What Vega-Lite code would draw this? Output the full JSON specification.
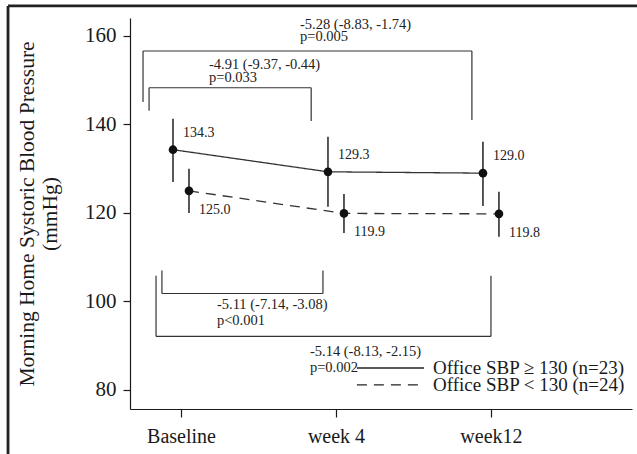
{
  "$schema": "https://vega.github.io/schema/vega-lite/v6.json",
  "width": 502,
  "height": 391,
  "autosize": {"type": "none"},
  "padding": {"left": 130, "top": 18, "right": 5, "bottom": 45},
  "background": "white",
  "config": {
    "view": {"stroke": null},
    "font": "Liberation Serif",
    "text": {"font": "Liberation Serif"}
  },
  "datasets": {
    "series": [
      {"x": 1, "y": 134.3, "lo": 127.0, "hi": 141.3, "group": "Office SBP ≥ 130 (n=23)"},
      {"x": 2, "y": 129.3, "lo": 121.4, "hi": 137.2, "group": "Office SBP ≥ 130 (n=23)"},
      {"x": 3, "y": 129.0, "lo": 121.6, "hi": 136.1, "group": "Office SBP ≥ 130 (n=23)"},
      {"x": 1, "y": 125.0, "lo": 120.0, "hi": 130.0, "group": "Office SBP < 130 (n=24)"},
      {"x": 2, "y": 119.9, "lo": 115.5, "hi": 124.3, "group": "Office SBP < 130 (n=24)"},
      {"x": 3, "y": 119.8, "lo": 114.6, "hi": 124.8, "group": "Office SBP < 130 (n=24)"}
    ],
    "brackets": [
      {"x": 0.755, "y": 156.6, "x2": 2.877, "y2": 156.6},
      {"x": 0.755, "y": 156.6, "x2": 0.755, "y2": 145.1},
      {"x": 2.877, "y": 156.6, "x2": 2.877, "y2": 141.0},
      {"x": 0.794, "y": 148.3, "x2": 1.84, "y2": 148.3},
      {"x": 0.794, "y": 148.3, "x2": 0.794, "y2": 143.1},
      {"x": 1.84, "y": 148.3, "x2": 1.84, "y2": 140.8},
      {"x": 0.877, "y": 101.8, "x2": 1.916, "y2": 101.8},
      {"x": 0.877, "y": 101.8, "x2": 0.877, "y2": 107.0},
      {"x": 1.916, "y": 101.8, "x2": 1.916, "y2": 107.0},
      {"x": 0.839, "y": 92.1, "x2": 3.0, "y2": 92.1},
      {"x": 0.839, "y": 92.1, "x2": 0.839, "y2": 105.8},
      {"x": 3.0, "y": 92.1, "x2": 3.0, "y2": 105.8}
    ],
    "frame": [
      {"x": -0.116, "y": 166.78, "x2": 3.99, "y2": 166.78},
      {"x": -0.116, "y": 166.78, "x2": -0.116, "y2": 60}
    ],
    "notes": [
      {"x": 1.768, "y": 162.5, "text": "-5.28 (-8.83, -1.74)"},
      {"x": 1.768, "y": 159.8, "text": "p=0.005"},
      {"x": 1.181, "y": 153.4, "text": "-4.91 (-9.37, -0.44)"},
      {"x": 1.181, "y": 150.5, "text": "p=0.033"},
      {"x": 1.232, "y": 99.3, "text": "-5.11 (-7.14, -3.08)"},
      {"x": 1.232, "y": 95.6, "text": "p<0.001"},
      {"x": 1.832, "y": 88.6, "text": "-5.14 (-8.13, -2.15)"},
      {"x": 1.832, "y": 85.0, "text": "p=0.002"}
    ],
    "legendkeys": [
      {"x": 2.135, "x2": 2.568, "xt": 2.626, "y": 84.97, "group": "Office SBP ≥ 130 (n=23)"},
      {"x": 2.135, "x2": 2.568, "xt": 2.626, "y": 81.13, "group": "Office SBP < 130 (n=24)"}
    ]
  },
  "encoding": {
    "x": {
      "field": "x",
      "type": "quantitative",
      "scale": {"domain": [0.671, 3.91], "nice": false, "zero": false},
      "axis": {
        "title": null,
        "values": [1, 2, 3],
        "labelExpr": "datum.value == 1 ? 'Baseline' : datum.value == 2 ? 'week 4' : 'week12'",
        "grid": false,
        "tickSize": 8,
        "tickColor": "#1a1a1a",
        "tickWidth": 1.2,
        "domainColor": "#1a1a1a",
        "domainWidth": 1.2,
        "labelFont": "Liberation Serif",
        "labelFontSize": 20,
        "labelColor": "#1a1a1a",
        "labelPadding": 9,
        "labelFlush": false,
        "labelOverlap": false
      }
    },
    "y": {
      "field": "y",
      "type": "quantitative",
      "scale": {"domain": [75.7, 164.06], "nice": false, "zero": false},
      "axis": {
        "title": ["Morning Home Systoric Blood Pressure", "(mmHg)"],
        "titleFont": "Liberation Serif",
        "titleFontSize": 21.5,
        "titleFontWeight": "normal",
        "titleColor": "#1a1a1a",
        "titleLineHeight": 23,
        "titlePadding": 23,
        "values": [80, 100, 120, 140, 160],
        "grid": false,
        "tickSize": 7,
        "tickColor": "#1a1a1a",
        "tickWidth": 1.2,
        "domainColor": "#1a1a1a",
        "domainWidth": 1.2,
        "labelFont": "Liberation Serif",
        "labelFontSize": 21,
        "labelColor": "#1a1a1a",
        "labelPadding": 7
      }
    }
  },
  "layer": [
    {
      "data": {"name": "frame"},
      "mark": {"type": "rule", "color": "#222222", "strokeWidth": 2.8},
      "encoding": {"x2": {"field": "x2"}, "y2": {"field": "y2"}}
    },
    {
      "data": {"name": "brackets"},
      "mark": {"type": "rule", "color": "#333333", "strokeWidth": 1.2},
      "encoding": {"x2": {"field": "x2"}, "y2": {"field": "y2"}}
    },
    {
      "data": {"name": "notes"},
      "mark": {"type": "text", "align": "left", "baseline": "middle", "fontSize": 14.5, "color": "#222222"},
      "encoding": {"text": {"field": "text"}}
    },
    {
      "data": {"name": "legendkeys"},
      "mark": {"type": "rule", "color": "#222222", "strokeWidth": 1.3},
      "encoding": {
        "x2": {"field": "x2"},
        "strokeDash": {
          "field": "group",
          "type": "nominal",
          "legend": null,
          "scale": {"domain": ["Office SBP ≥ 130 (n=23)", "Office SBP < 130 (n=24)"], "range": [[1, 0], [10, 7]]}
        }
      }
    },
    {
      "data": {"name": "legendkeys"},
      "mark": {"type": "text", "align": "left", "baseline": "middle", "fontSize": 19, "color": "#1a1a1a"},
      "encoding": {"x": {"field": "xt", "type": "quantitative"}, "text": {"field": "group"}}
    },
    {
      "data": {"name": "series"},
      "transform": [{"filter": "datum.group == 'Office SBP ≥ 130 (n=23)'"}],
      "layer": [
        {
          "mark": {"type": "line", "xOffset": -8, "color": "#333333", "strokeWidth": 1.3},
          "encoding": {
            "strokeDash": {
              "field": "group",
              "type": "nominal",
              "legend": null,
              "scale": {"domain": ["Office SBP ≥ 130 (n=23)", "Office SBP < 130 (n=24)"], "range": [[1, 0], [10, 7]]}
            }
          }
        },
        {
          "mark": {"type": "rule", "xOffset": -8, "color": "#111111", "strokeWidth": 1.4},
          "encoding": {"y": {"field": "lo", "type": "quantitative"}, "y2": {"field": "hi"}}
        },
        {
          "mark": {"type": "point", "xOffset": -8, "filled": true, "size": 75, "color": "#111111", "opacity": 1}
        },
        {
          "mark": {"type": "text", "xOffset": -8, "dx": 10, "dy": -17, "align": "left", "baseline": "middle", "fontSize": 14, "color": "#222222"},
          "encoding": {"text": {"field": "y", "type": "quantitative", "format": ".1f"}}
        }
      ]
    },
    {
      "data": {"name": "series"},
      "transform": [{"filter": "datum.group == 'Office SBP < 130 (n=24)'"}],
      "layer": [
        {
          "mark": {"type": "line", "xOffset": 8, "color": "#333333", "strokeWidth": 1.3},
          "encoding": {
            "strokeDash": {
              "field": "group",
              "type": "nominal",
              "legend": null,
              "scale": {"domain": ["Office SBP ≥ 130 (n=23)", "Office SBP < 130 (n=24)"], "range": [[1, 0], [10, 7]]}
            }
          }
        },
        {
          "mark": {"type": "rule", "xOffset": 8, "color": "#111111", "strokeWidth": 1.4},
          "encoding": {"y": {"field": "lo", "type": "quantitative"}, "y2": {"field": "hi"}}
        },
        {
          "mark": {"type": "point", "xOffset": 8, "filled": true, "size": 75, "color": "#111111", "opacity": 1}
        },
        {
          "mark": {"type": "text", "xOffset": 8, "dx": 10, "dy": 19, "align": "left", "baseline": "middle", "fontSize": 14, "color": "#222222"},
          "encoding": {"text": {"field": "y", "type": "quantitative", "format": ".1f"}}
        }
      ]
    }
  ]
}
